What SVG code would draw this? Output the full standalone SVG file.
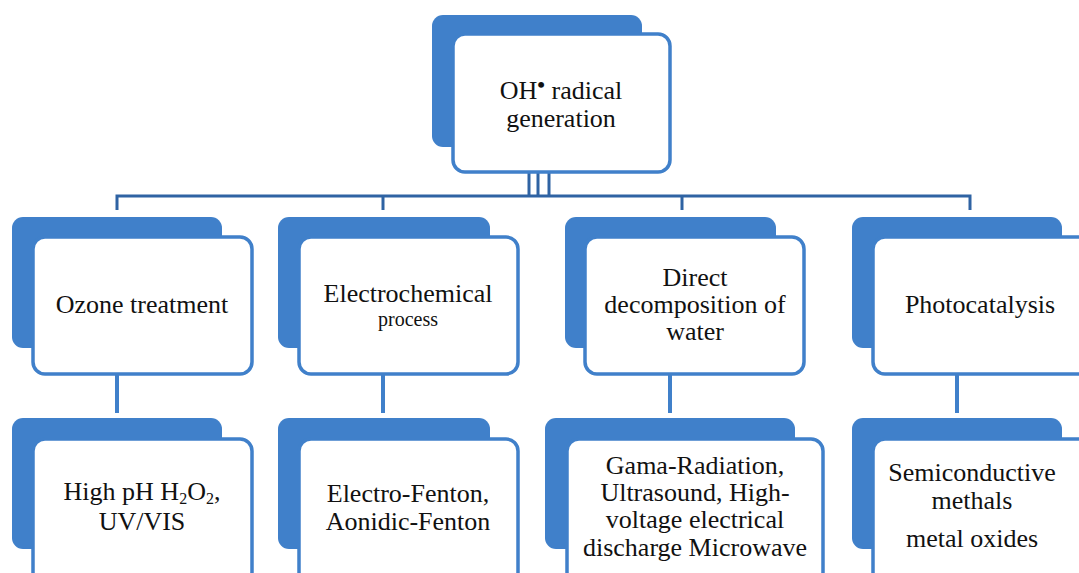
<svg xmlns="http://www.w3.org/2000/svg" width="1079" height="573" viewBox="0 0 1079 573">
<style>
.back{fill:#4080ca;}
.front{fill:#ffffff;stroke:#4080ca;stroke-width:3.5;}
.bus{stroke:#2f63a3;stroke-width:3;fill:none;}
.drop{stroke:#4080ca;stroke-width:4;fill:none;}
text{font-family:"Liberation Serif","Times New Roman",serif;font-size:26px;fill:#111;text-anchor:middle;}
.small{font-size:20px;}
</style>
<rect width="1079" height="573" fill="#ffffff"/>
<g id="connectors">
<line class="bus" x1="529" y1="173" x2="529" y2="197"/>
<line class="bus" x1="538" y1="173" x2="538" y2="197"/>
<line class="bus" x1="549" y1="173" x2="549" y2="197"/>
<polyline class="bus" points="117,210 117,196 970,196 970,210"/>
<line class="bus" x1="383" y1="196" x2="383" y2="210"/>
<line class="bus" x1="682" y1="196" x2="682" y2="210"/>
<line class="drop" x1="117" y1="375" x2="117" y2="413"/>
<line class="drop" x1="383" y1="375" x2="383" y2="413"/>
<line class="drop" x1="670" y1="375" x2="670" y2="413"/>
<line class="drop" x1="957" y1="375" x2="957" y2="413"/>
</g>
<g id="root">
<rect class="back" x="432" y="15" width="210" height="132" rx="11"/>
<rect class="front" x="453" y="34" width="217" height="138" rx="12"/>
<text x="561" y="99">OH<tspan font-size="22" font-weight="bold" dy="-7">•</tspan><tspan dy="7"> radical</tspan></text>
<text x="561" y="127">generation</text>
</g>
<g id="ozone">
<rect class="back" x="12" y="217" width="210" height="131" rx="11"/>
<rect class="front" x="33" y="237" width="219" height="137" rx="12"/>
<text x="142" y="313">Ozone treatment</text>
</g>
<g id="electrochemical">
<rect class="back" x="278" y="217" width="212" height="131" rx="11"/>
<rect class="front" x="299" y="237" width="219" height="137" rx="12"/>
<text x="408" y="302">Electrochemical</text>
<text class="small" x="408" y="326">process</text>
</g>
<g id="direct">
<rect class="back" x="565" y="217" width="211" height="131" rx="11"/>
<rect class="front" x="585" y="237" width="219" height="137" rx="12"/>
<text x="695" y="286">Direct</text>
<text x="695" y="313">decomposition of</text>
<text x="695" y="340">water</text>
</g>
<g id="photocatalysis">
<rect class="back" x="852" y="217" width="210" height="131" rx="11"/>
<rect class="front" x="873" y="237" width="219" height="137" rx="12"/>
<text x="980" y="313">Photocatalysis</text>
</g>
<g id="ozone-methods">
<rect class="back" x="12" y="418" width="210" height="131" rx="11"/>
<rect class="front" x="33" y="439" width="219" height="145" rx="12"/>
<text x="142" y="500">High pH H<tspan font-size="16" dy="4">2</tspan><tspan dy="-4">O</tspan><tspan font-size="16" dy="4">2</tspan><tspan dy="-4">,</tspan></text>
<text x="142" y="530">UV/VIS</text>
</g>
<g id="electro-methods">
<rect class="back" x="278" y="418" width="212" height="131" rx="11"/>
<rect class="front" x="299" y="439" width="219" height="145" rx="12"/>
<text x="408" y="502">Electro-Fenton,</text>
<text x="408" y="530">Aonidic-Fenton</text>
</g>
<g id="direct-methods">
<rect class="back" x="545" y="418" width="250" height="131" rx="11"/>
<rect class="front" x="567" y="439" width="256" height="145" rx="12"/>
<text x="695" y="474">Gama-Radiation,</text>
<text x="695" y="501">Ultrasound, High-</text>
<text x="695" y="528">voltage electrical</text>
<text x="695" y="556">discharge Microwave</text>
</g>
<g id="photo-methods">
<rect class="back" x="852" y="418" width="210" height="131" rx="11"/>
<rect class="front" x="873" y="439" width="219" height="145" rx="12"/>
<text x="972" y="481">Semiconductive</text>
<text x="972" y="509">methals</text>
<text x="972" y="547">metal oxides</text>
</g>
</svg>
